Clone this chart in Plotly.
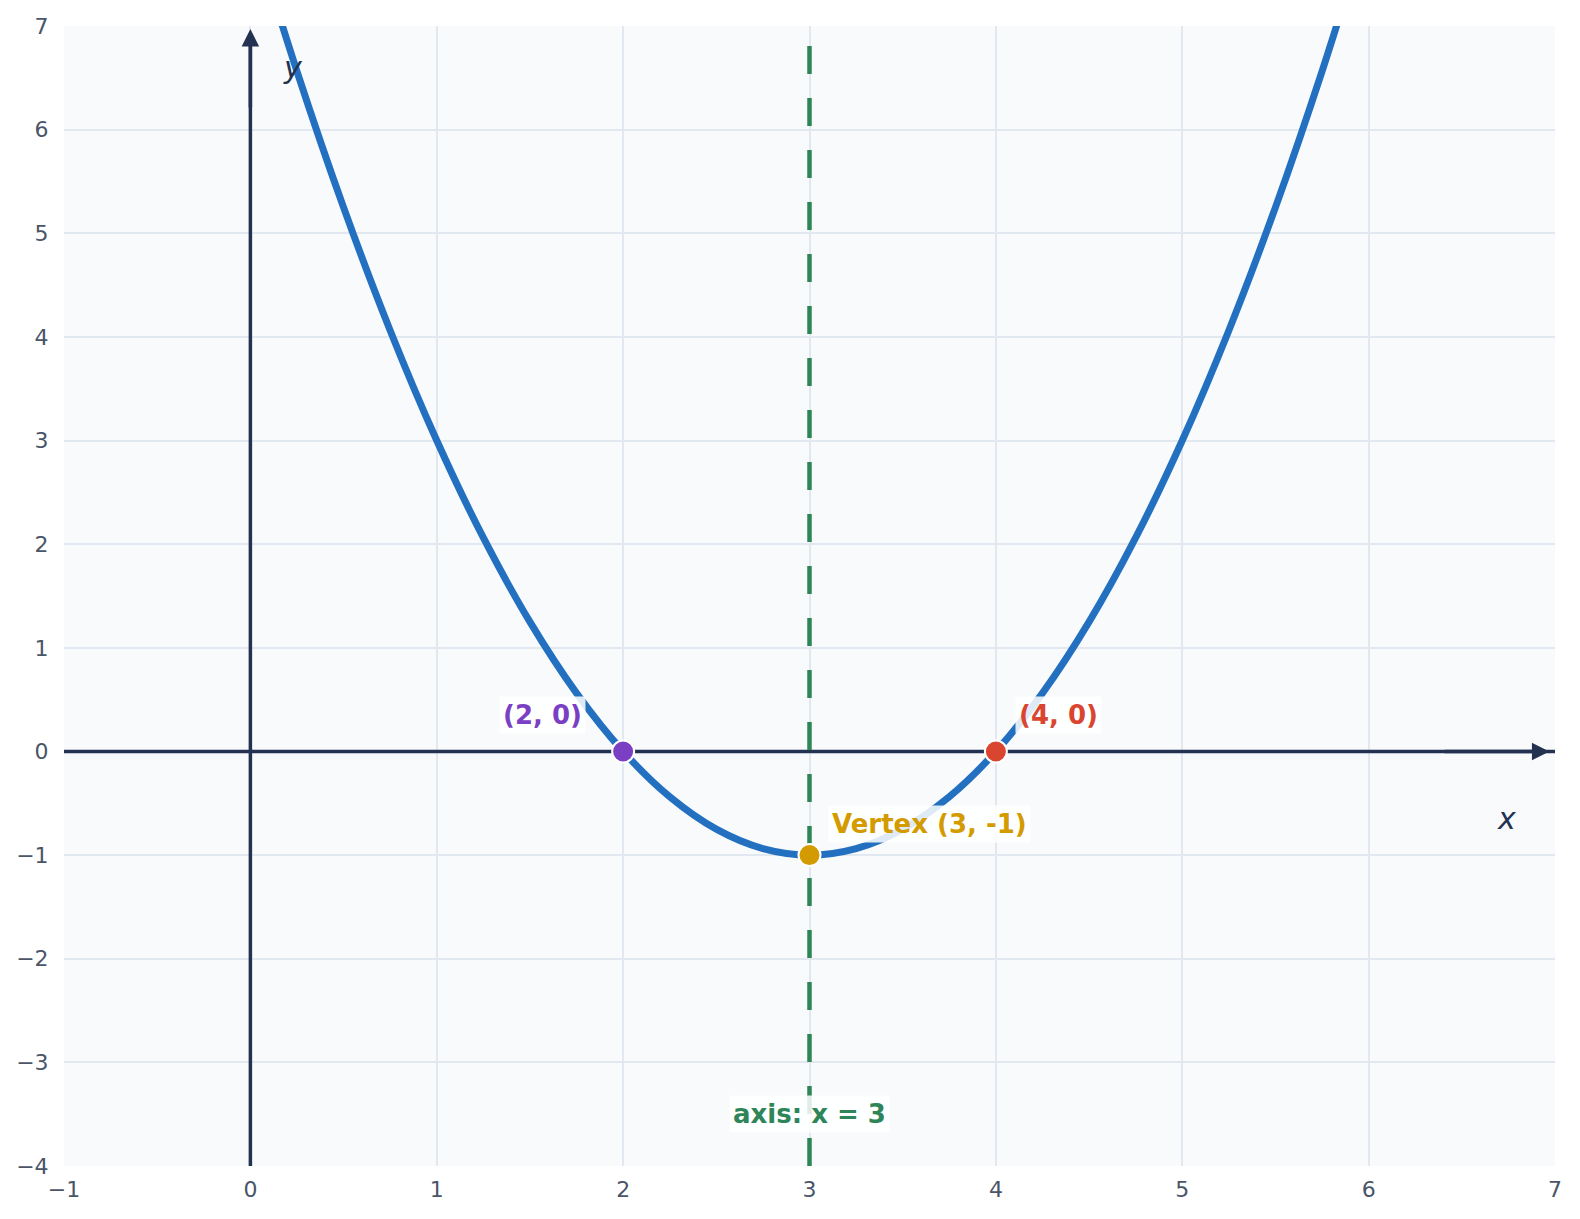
import plotly.graph_objects as go

# parabola y = x^2 - 6x + 8
curve_x = [0.0, 0.25, 0.5, 0.75, 1.0, 1.25, 1.5, 1.75, 2.0, 2.25, 2.5, 2.75, 3.0,
           3.25, 3.5, 3.75, 4.0, 4.25, 4.5, 4.75, 5.0, 5.25, 5.5, 5.75, 6.0]
curve_y = [8.0, 6.5625, 5.25, 4.0625, 3.0, 2.0625, 1.25, 0.5625, 0.0, -0.4375, -0.75, -0.9375, -1.0,
           -0.9375, -0.75, -0.4375, 0.0, 0.5625, 1.25, 2.0625, 3.0, 4.0625, 5.25, 6.5625, 8.0]

# special points: roots and vertex
pt_x = [2, 4, 3]
pt_y = [0, 0, -1]
pt_colors = ['#7b3fc4', '#d9452f', '#d49b00']

# symmetry axis x = 3
sym_x = [3, 3]
sym_y = [-4, 6.86]

# labels (text, x, y, anchor, colour)
lab_text = ['(2, 0)', '(4, 0)', 'Vertex (3, -1)', 'axis: x = 3']
lab_x = [1.8, 4.1, 3.1, 3.0]
lab_y = [0.35, 0.35, -0.7, -3.5]
lab_anchor = ['right', 'left', 'left', 'center']
lab_colors = ['#7b3fc4', '#d9452f', '#d49b00', '#2e8557']

x_range = [-1, 7]
y_range = [-4, 7]

dark = '#233250'

fig = go.Figure()

# coordinate axes through the origin
fig.add_trace(go.Scatter(x=x_range, y=[0, 0], mode='lines', line=dict(color=dark, width=3.5),
                         hoverinfo='skip', showlegend=False))
fig.add_trace(go.Scatter(x=[0, 0], y=[y_range[0], 6.9], mode='lines', line=dict(color=dark, width=3.5),
                         hoverinfo='skip', showlegend=False))

fig.add_trace(go.Scatter(x=sym_x, y=sym_y, mode='lines',
                         line=dict(color='#2e8557', width=4.5, dash='28px,24px'),
                         hoverinfo='skip', showlegend=False))

fig.add_trace(go.Scatter(
    x=curve_x, y=curve_y, mode='lines',
    line=dict(color='#2370c0', width=7, shape='spline'),
    hoverinfo='skip', showlegend=False))

fig.add_trace(go.Scatter(
    x=pt_x, y=pt_y, mode='markers',
    marker=dict(size=22, color=pt_colors, line=dict(color='white', width=2)),
    showlegend=False))

# arrow heads
fig.add_annotation(x=6.97, y=0, ax=6.4, ay=0, axref='x', ayref='y', text='',
                   showarrow=True, arrowhead=2, arrowsize=1, arrowwidth=3.5, arrowcolor=dark)
fig.add_annotation(x=0, y=6.97, ax=0, ay=6.2, axref='x', ayref='y', text='',
                   showarrow=True, arrowhead=2, arrowsize=1, arrowwidth=3.5, arrowcolor=dark)

# axis names
fig.add_annotation(x=6.74, y=-0.65, text='<i>x</i>', showarrow=False,
                   font=dict(family='DejaVu Sans', size=30, color=dark))
fig.add_annotation(x=0.23, y=6.6, text='<i>y</i>', showarrow=False,
                   font=dict(family='DejaVu Sans', size=30, color=dark))

for t, lx, ly, anc, c in zip(lab_text, lab_x, lab_y, lab_anchor, lab_colors):
    fig.add_annotation(x=lx, y=ly, text=f'<b>{t}</b>', showarrow=False, xanchor=anc,
                       bgcolor='rgba(255,255,255,0.85)', borderpad=3,
                       font=dict(family='DejaVu Sans', size=26, color=c))

fig.update_layout(
    width=1576, height=1217,
    margin=dict(l=56, r=29, t=18, b=59),
    paper_bgcolor='white',
    plot_bgcolor='#f8fafc',
    font=dict(family='DejaVu Sans', size=22, color='#4a5568'),
    xaxis=dict(range=x_range, dtick=1, showgrid=True, gridcolor='#e2e8f0', gridwidth=1.5,
               zeroline=False, showline=False, ticks='outside', ticklen=4, automargin=False,
               tickcolor='rgba(0,0,0,0)', fixedrange=True),
    yaxis=dict(range=y_range, dtick=1, showgrid=True, gridcolor='#e2e8f0', gridwidth=1.5,
               zeroline=False, showline=False, ticks='outside', ticklen=10, automargin=False,
               tickcolor='rgba(0,0,0,0)', fixedrange=True),
)

fig.write_html('out.html')
